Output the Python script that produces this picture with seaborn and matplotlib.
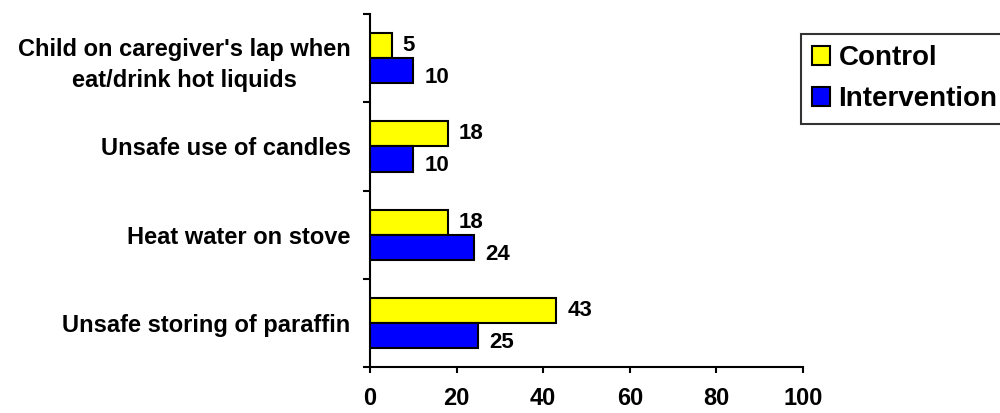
import matplotlib
matplotlib.use("Agg")
import matplotlib.pyplot as plt
from matplotlib.patches import Patch
import seaborn as sns
import pandas as pd
import numpy as np

categories = [
    "Child on caregiver's lap when\neat/drink hot liquids",
    "Unsafe use of candles",
    "Heat water on stove",
    "Unsafe storing of paraffin",
]
control = [5, 18, 18, 43]
intervention = [10, 10, 24, 25]
groups = ["Control", "Intervention"]
x_ticks = [0, 20, 40, 60, 80, 100]

sns.set_theme(style="white", rc={
    "text.color": "black",
    "axes.labelcolor": "black",
    "xtick.color": "black",
    "ytick.color": "black",
})
plt.rcParams["font.family"] = ["Liberation Sans", "DejaVu Sans"]
plt.rcParams["font.weight"] = "bold"

df = pd.DataFrame({
    "category": categories * 2,
    "group": [groups[0]] * len(categories) + [groups[1]] * len(categories),
    "value": control + intervention,
})

fig = plt.figure(figsize=(10, 4.13), dpi=100)
ax = fig.add_axes([0.37, 0.111, 0.433, 0.855])

sns.barplot(
    data=df, y="category", x="value", hue="group", orient="h",
    palette={"Control": "#FFFF00", "Intervention": "#0000FF"},
    order=categories, hue_order=groups,
    width=0.57, edgecolor="black", linewidth=1.5, ax=ax, legend=False,
    saturation=1,
)

ax.set_xlim(0, 100)
ax.set_ylim(len(categories) - 0.5, -0.5)
ax.set_xlabel("")
ax.set_ylabel("")

# value labels at the end of each bar
label_shift = {"Control": 0, "Intervention": -5}
for container, g in zip(ax.containers, groups):
    for bar, v in zip(container, df[df["group"] == g]["value"]):
        y = bar.get_y() + bar.get_height() / 2
        ax.annotate(f"{v:g}", xy=(v, y), xytext=(8, label_shift[g]),
                    textcoords="offset points", ha="left", va="center",
                    fontsize=16, fontweight="bold", color="black")

# x axis
ax.set_xticks(x_ticks)
ax.set_xticklabels([str(t) for t in x_ticks], fontsize=17, fontweight="bold")
ax.tick_params(axis="x", direction="out", length=4.5, width=1.5,
               color="black", pad=10, bottom=True)

# y axis: tick marks between categories, labels centred on bands
ax.set_yticks(np.arange(-0.5, len(categories) + 0.5, 1))
ax.set_yticklabels([])
ax.tick_params(axis="y", which="major", direction="out", length=5,
               width=1.5, color="black", left=True)
ax.set_yticks(np.arange(len(categories)), minor=True)
ax.set_yticklabels(categories, minor=True, fontsize=17, fontweight="bold",
                   multialignment="center", linespacing=1.45)
ax.tick_params(axis="y", which="minor", length=0, pad=14)

for side in ["top", "right"]:
    ax.spines[side].set_visible(False)
for side in ["left", "bottom"]:
    ax.spines[side].set_color("black")
    ax.spines[side].set_linewidth(1.5)

ax.grid(False)

handles = [Patch(facecolor="#FFFF00", edgecolor="black", linewidth=1.5),
           Patch(facecolor="#0000FF", edgecolor="black", linewidth=1.5)]
leg = fig.legend(handles, groups, loc="upper left",
                 bbox_to_anchor=(0.801, 1 - 34 / 413),
                 prop={"size": 20, "weight": "bold"},
                 handlelength=0.65, handleheight=0.65, handletextpad=0.3,
                 labelspacing=0.55, borderpad=0.4, borderaxespad=0,
                 frameon=True, fancybox=False, shadow=False)
leg.get_frame().set_edgecolor("black")
leg.get_frame().set_linewidth(1.5)

fig.savefig("out.png", dpi=100)
